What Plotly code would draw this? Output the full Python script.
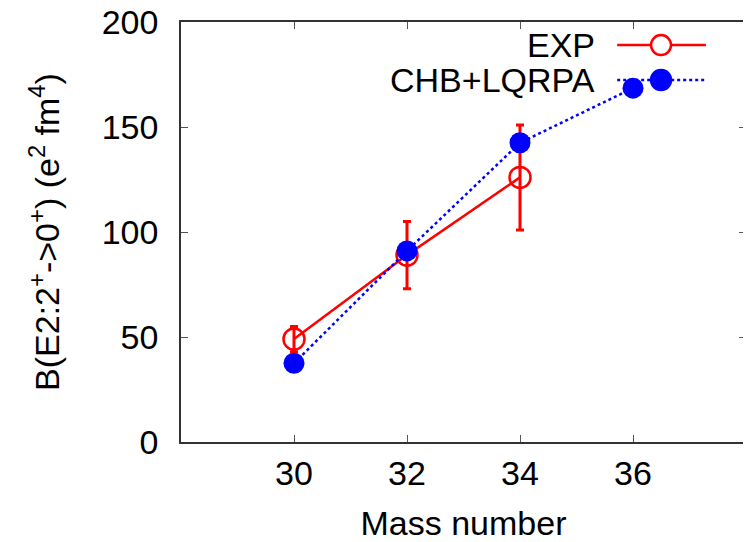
import plotly.graph_objects as go

# Data
mass_exp = [30, 32, 34]
bE2_exp = [49, 89, 126]
bE2_exp_err = [6, 16, 25]

mass_th = [30, 32, 34, 36]
bE2_th = [37.5, 91, 142.5, 168.5]

x_ticks = [30, 32, 34, 36]
y_ticks = [0, 50, 100, 150, 200]

FONT = "Liberation Sans, Arial, sans-serif"
FS = 34

# the page body has an 8px default margin; compensate so the figure fills the window
PAGE_OFF = 8

fig = go.Figure()

fig.add_trace(go.Scatter(
    x=mass_exp, y=bE2_exp, mode="lines+markers", name="EXP",
    line=dict(color="#ff0000", width=2.5),
    marker=dict(symbol="circle-open", size=21, color="#ff0000", line=dict(width=2.5, color="#ff0000")),
    error_y=dict(type="data", array=bE2_exp_err, visible=True, color="#ff0000", thickness=3, width=4),
    showlegend=False,
))

fig.add_trace(go.Scatter(
    x=mass_th, y=bE2_th, mode="lines+markers", name="CHB+LQRPA",
    line=dict(color="#0000ff", width=2.5, dash="dot"),
    marker=dict(symbol="circle", size=21, color="#0000ff"),
    showlegend=False,
))

# custom legend (text on the left, sample on the right, as in gnuplot)
leg_text_x = 0.737
leg_x0, leg_x1, leg_mx = 0.772, 0.929, 0.8496
leg_rows = [
    ("EXP", 0.945, "#ff0000", "solid", "open"),
    ("CHB+LQRPA", 0.862, "#0000ff", "dot", "filled"),
]
for label, yy, col, dash, fillkind in leg_rows:
    fig.add_annotation(x=leg_text_x, y=yy, xref="paper", yref="paper", text=label,
                       showarrow=False, xanchor="right", yanchor="middle",
                       font=dict(family=FONT, size=FS, color="black"))
    fig.add_shape(type="line", xref="paper", yref="paper", x0=leg_x0, x1=leg_x1, y0=yy, y1=yy,
                  line=dict(color=col, width=2.5, dash=dash))
    fig.add_shape(type="circle", xref="paper", yref="paper", xsizemode="pixel", ysizemode="pixel",
                  xanchor=leg_mx, yanchor=yy, x0=-10, x1=10, y0=-10, y1=10,
                  line=dict(color=col, width=2.5),
                  fillcolor=(col if fillkind == "filled" else "white"))

fig.update_xaxes(
    range=[28, 38], tickvals=x_ticks, ticktext=[str(v) for v in x_ticks],
    showgrid=False, zeroline=False, automargin=False,
    showline=True, linecolor="#333333", linewidth=1.5, mirror="ticks",
    ticks="inside", ticklen=7, tickcolor="#555555", tickwidth=1,
    ticklabelstandoff=0, ticklabeloverflow="allow",
    tickfont=dict(family=FONT, size=FS, color="black"),
    title=dict(text="Mass number", font=dict(family=FONT, size=FS, color="black"), standoff=38),
)
fig.update_yaxes(
    range=[0, 200], tickvals=y_ticks, ticktext=[str(v) for v in y_ticks],
    showgrid=False, zeroline=False, automargin=False,
    showline=True, linecolor="#333333", linewidth=1.5, mirror="ticks",
    ticks="inside", ticklen=7, tickcolor="#555555", tickwidth=1,
    ticklabelstandoff=14, ticklabeloverflow="allow",
    tickfont=dict(family=FONT, size=FS, color="black"),
    title=dict(text="B(E2:2<sup>+</sup>->0<sup>+</sup>) (e<sup>2</sup> fm<sup>4</sup>)",
               font=dict(family=FONT, size=FS, color="black"), standoff=32),
)

fig.update_layout(
    width=751 - PAGE_OFF, height=542 - PAGE_OFF,
    margin=dict(l=181 - PAGE_OFF, r=751 - 746, t=22 - PAGE_OFF, b=542 - 442),
    paper_bgcolor="white", plot_bgcolor="white",
    showlegend=False,
)

fig.write_html("out.html")
